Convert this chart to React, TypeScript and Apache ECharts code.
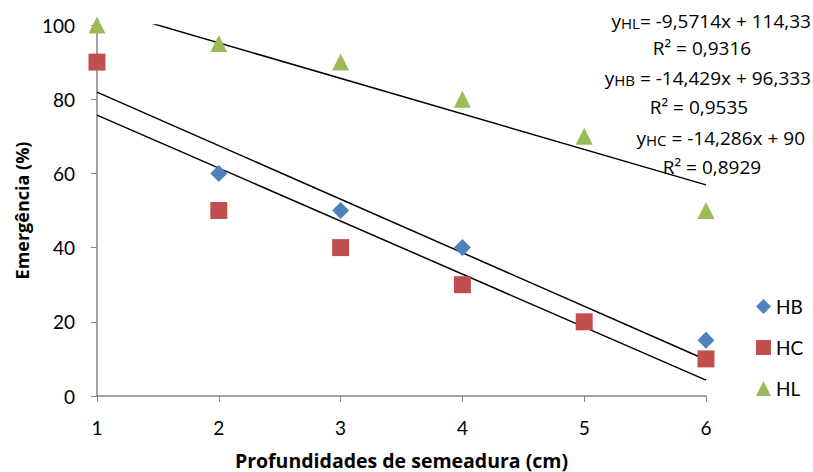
import React, { useEffect, useRef } from "react";
import * as echarts from "echarts";

const depths = [1, 2, 3, 4, 5, 6];
const hb = [90, 60, 50, 40, 20, 15];
const hc = [90, 50, 40, 30, 20, 10];
const hl = [100, 95, 90, 80, 70, 50];
// trend line coefficients as printed in the chart
const trendHB = { a: -14.429, b: 96.333 };
const trendHC = { a: -14.286, b: 90 };
const trendHL = { a: -9.5714, b: 114.33 };
const yTicks = { min: 0, max: 100, interval: 20 };

const FONT = "Lato, 'Liberation Sans', sans-serif";
const FONT2 = "'Open Sans', 'Liberation Sans', sans-serif";

function trend(t: { a: number; b: number }) {
  const x0 = depths[0];
  const x1 = depths[depths.length - 1];
  return [
    [x0, t.a * x0 + t.b],
    [x1, t.a * x1 + t.b],
  ];
}

export default function App() {
  const ref = useRef<HTMLDivElement>(null);
  useEffect(() => {
    document.body.style.margin = "0";
    if (!ref.current) return;
    const chart = echarts.init(ref.current, null, { renderer: "svg" });
    const pts = (arr: number[]) => depths.map((d, i) => [d, arr[i]]);
    const trendSeries = (t: { a: number; b: number }) => ({
      type: "line",
      data: trend(t),
      symbol: "none",
      clip: true,
      silent: true,
      lineStyle: { color: "#000", width: 1.5 },
      z: 1,
    });
    const eqText = (x: number, y: number, sub: string, rest: string) => ({
      type: "text",
      x,
      y,
      style: {
        text: `{y|y}{s|${sub}}{n|${rest}}`,
        align: "right",
        verticalAlign: "middle",
        rich: {
          y: { fontSize: 19, fontFamily: FONT2, fill: "#000" },
          s: { fontSize: 15, fontFamily: FONT2, fill: "#000", padding: [3, 0, 0, 0] },
          n: { fontSize: 19, fontFamily: FONT2, fill: "#000" },
        },
      },
    });
    const rText = (x: number, y: number, text: string) => ({
      type: "text",
      x,
      y,
      style: {
        text,
        fontSize: 19,
        fontFamily: FONT2,
        fill: "#000",
        align: "center",
        verticalAlign: "middle",
      },
    });
    chart.setOption({
      animation: false,
      grid: {
        left: 97,
        right: 107,
        top: 25,
        bottom: 76,
        containLabel: false,
        outerBoundsMode: "none",
      },
      legend: {
        data: [
          { name: "HB", icon: "diamond" },
          { name: "HC", icon: "rect" },
          { name: "HL", icon: "triangle" },
        ],
        orient: "vertical",
        left: 751,
        top: 292,
        itemWidth: 15,
        itemHeight: 15,
        itemGap: 22,
        textStyle: { fontSize: 19, fontFamily: FONT, color: "#000" },
      },
      xAxis: {
        type: "value",
        min: 1,
        max: 6,
        interval: 1,
        name: "Profundidades de semeadura (cm)",
        nameLocation: "middle",
        nameGap: 54,
        nameTextStyle: {
          fontSize: 19.5,
          lineHeight: 20,
          fontWeight: "bold",
          fontFamily: FONT2,
          color: "#000",
        },
        axisLine: { lineStyle: { color: "#868686", width: 1.5 } },
        axisTick: { show: true, length: 6, lineStyle: { color: "#868686" } },
        axisLabel: { fontSize: 19, fontFamily: FONT, color: "#000", margin: 22 },
        splitLine: { show: false },
      },
      yAxis: {
        type: "value",
        min: yTicks.min,
        max: yTicks.max,
        interval: yTicks.interval,
        name: "Emergência (%)",
        nameLocation: "middle",
        nameGap: 62,
        nameTextStyle: { fontSize: 18, fontWeight: "bold", fontFamily: FONT2, color: "#000" },
        axisLine: { show: true, lineStyle: { color: "#868686", width: 1.5 } },
        axisTick: { show: true, length: 6, lineStyle: { color: "#868686" } },
        axisLabel: { fontSize: 19, fontFamily: FONT, color: "#000", margin: 22 },
        splitLine: { show: false },
      },
      series: [
        trendSeries(trendHB),
        trendSeries(trendHC),
        trendSeries(trendHL),
        {
          name: "HB",
          type: "scatter",
          data: pts(hb),
          symbol: "diamond",
          symbolSize: 17,
          itemStyle: { color: "#4F81BD", opacity: 1 },
          z: 3,
        },
        {
          name: "HC",
          type: "scatter",
          data: pts(hc),
          symbol: "rect",
          symbolSize: 17,
          itemStyle: { color: "#C0504D", opacity: 1 },
          z: 4,
        },
        {
          name: "HL",
          type: "scatter",
          data: pts(hl),
          symbol: "triangle",
          symbolSize: 17,
          itemStyle: { color: "#9BBB59", opacity: 1 },
          z: 5,
        },
      ],
      graphic: [
        eqText(811, 21, "HL", "= -9,5714x + 114,33"),
        rText(702, 48, "R² = 0,9316"),
        eqText(811, 78, "HB", " = -14,429x + 96,333"),
        rText(699, 107, "R² = 0,9535"),
        eqText(805, 138, "HC", " = -14,286x + 90"),
        rText(712, 167, "R² = 0,8929"),
      ],
    });
    return () => chart.dispose();
  }, []);
  return <div ref={ref} style={{ width: 813, height: 472 }} />;
}
